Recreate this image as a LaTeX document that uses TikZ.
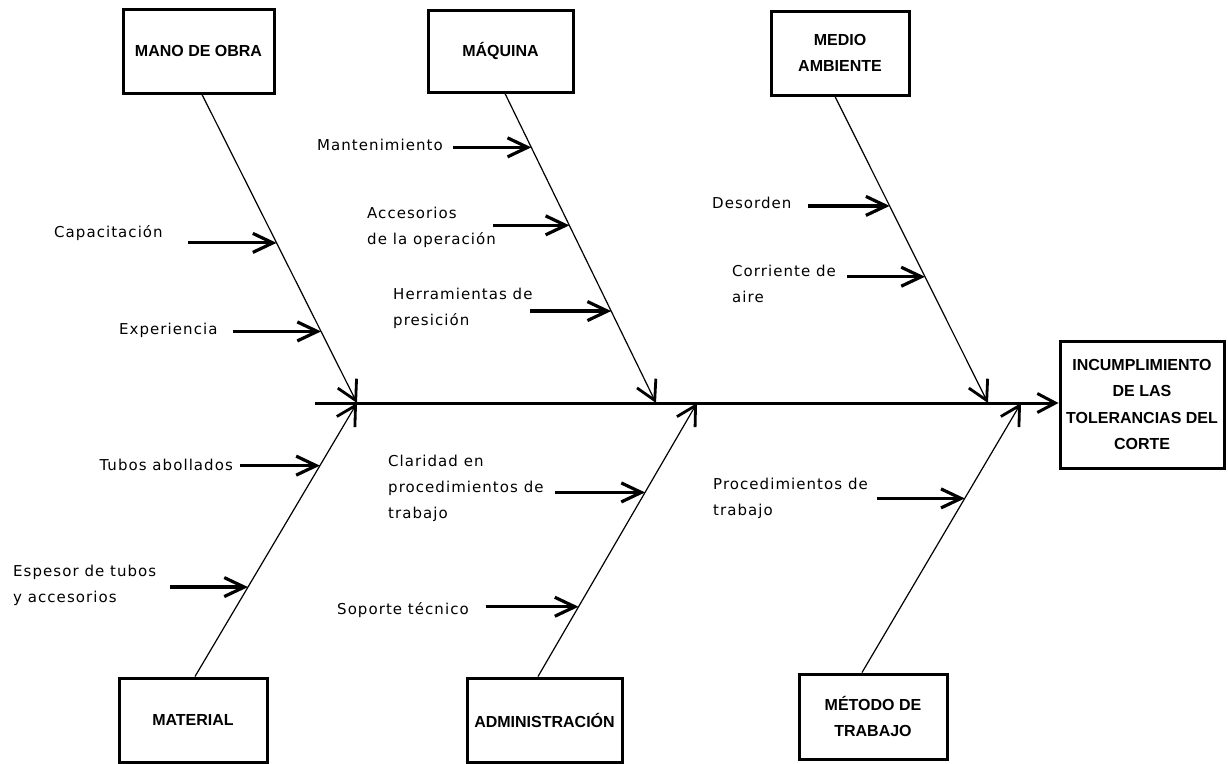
\documentclass[tikz,border=0pt]{standalone}
\usepackage{fontspec}
\usetikzlibrary{arrows.meta,calc}
\newfontfamily\lblfamily[LetterSpace=7]{DejaVu Sans}
\newfontfamily\boxfamily{Liberation Sans}
\newcommand\lblfont{\lblfamily\fontsize{15}{26}\selectfont}
\newcommand\boxfont{\boxfamily\bfseries\fontsize{16}{26.5}\selectfont}
\begin{document}
\begin{tikzpicture}[x=1pt,y=-1pt,
  box/.style={draw, line width=3pt, inner sep=0pt, font=\boxfont, align=center},
  bone/.style={line width=1.2pt, -{Straight Barb[length=19pt,width=21pt,line width=2.8pt]}},
  sub/.style={line width=3.2pt, -{Straight Barb[length=20pt,width=19pt]}},
  spine/.style={line width=3pt, -{Straight Barb[length=18pt,width=19pt]}},
  lbl/.style={font=\lblfont, inner sep=0pt, align=left, anchor=west},
  lblr/.style={lbl, anchor=east}]
\useasboundingbox (0,0) rectangle (1228,763);

% category boxes
\node[box, minimum width=151pt, minimum height=84pt] (mano)   at (198.5,51)  {MANO DE OBRA};
\node[box, minimum width=145pt, minimum height=82pt] (maq)    at (500.5,51)  {MÁQUINA};
\node[box, minimum width=138pt, minimum height=84pt] (medio)  at (840,53)    {MEDIO\\AMBIENTE};
\node[box, minimum width=148pt, minimum height=84pt] (mat)    at (193,720)   {MATERIAL};
\node[box, minimum width=155pt, minimum height=84pt] (adm)    at (544.5,720) {ADMINISTRACIÓN};
\node[box, minimum width=148pt, minimum height=85pt] (metodo) at (873,716.5) {MÉTODO DE\\TRABAJO};
% effect box
\node[box, minimum width=164pt, minimum height=127pt] (effect) at (1142,404.5)
  {INCUMPLIMIENTO\\DE LAS\\TOLERANCIAS DEL\\CORTE};

% spine and junctions
\coordinate (tail) at (315,403);
\coordinate (j1) at (357,403);
\coordinate (j2) at (656,403);
\coordinate (j5) at (697,403);
\coordinate (j3) at (988,403);
\coordinate (j6) at (1021,403);
\draw[spine] (tail) -- (effect.west |- tail);

% main bones, with points where the cause arrows meet them
\draw[bone] ([xshift=3.5pt]mano.south) -- (j1)
  coordinate[pos=0.481] (t1) coordinate[pos=0.768] (t2);
\draw[bone] ([xshift=4.5pt]maq.south) -- (j2)
  coordinate[pos=0.174] (t3) coordinate[pos=0.426] (t4) coordinate[pos=0.703] (t5);
\draw[bone] ([xshift=-5pt]medio.south) -- (j3)
  coordinate[pos=0.357] (t6) coordinate[pos=0.588] (t7);
\draw[bone] ([xshift=2pt]mat.north) -- (j1)
  coordinate[pos=0.771] (t8) coordinate[pos=0.327] (t9);
\draw[bone] ([xshift=-6.5pt]adm.north) -- (j5)
  coordinate[pos=0.673] (t10) coordinate[pos=0.255] (t11);
\draw[bone] ([xshift=-11pt]metodo.north) -- (j6)
  coordinate[pos=0.646] (t12);

% cause arrows
\draw[sub] ([xshift=-89pt]t1) -- (t1);
\draw[sub] ([xshift=-88pt]t2) -- (t2);
\draw[sub] ([xshift=-78pt]t3) -- (t3);
\draw[sub] ([xshift=-76pt]t4) -- (t4);
\draw[sub] ([xshift=-81pt]t5) -- (t5);
\draw[sub] ([xshift=-82pt]t6) -- (t6);
\draw[sub] ([xshift=-78pt]t7) -- (t7);
\draw[sub] ([xshift=-80pt]t8) -- (t8);
\draw[sub] ([xshift=-78pt]t9) -- (t9);
\draw[sub] ([xshift=-90pt]t10) -- (t10);
\draw[sub] ([xshift=-93pt]t11) -- (t11);
\draw[sub] ([xshift=-88pt]t12) -- (t12);

% cause labels
\node[lbl] (l1) at (54,233) {Capacitación};
\node[lbl] (l2) at (119,330) {Experiencia};
\node[lbl] (l3) at (317,145) {Mantenimiento};
\node[lbl] (l4) at (367,227.5) {Accesorios\\de la operación};
\node[lbl] (l5) at (393,308.5) {Herramientas de\\presición};
\node[lbl] (l6) at (712,203) {Desorden};
\node[lbl] (l7) at (732,283.5) {Corriente de\\aire};
\node[lblr] (l8) at (233,465) {Tubos abollados};
\node[lbl] (l9) at (13,585) {Espesor de tubos\\y accesorios};
\node[lbl] (l10) at (388,488) {Claridad en\\procedimientos de\\trabajo};
\node[lbl] (l11) at (337,610) {Soporte técnico};
\node[lbl] (l12) at (713,498) {Procedimientos de\\trabajo};
\end{tikzpicture}
\end{document}
